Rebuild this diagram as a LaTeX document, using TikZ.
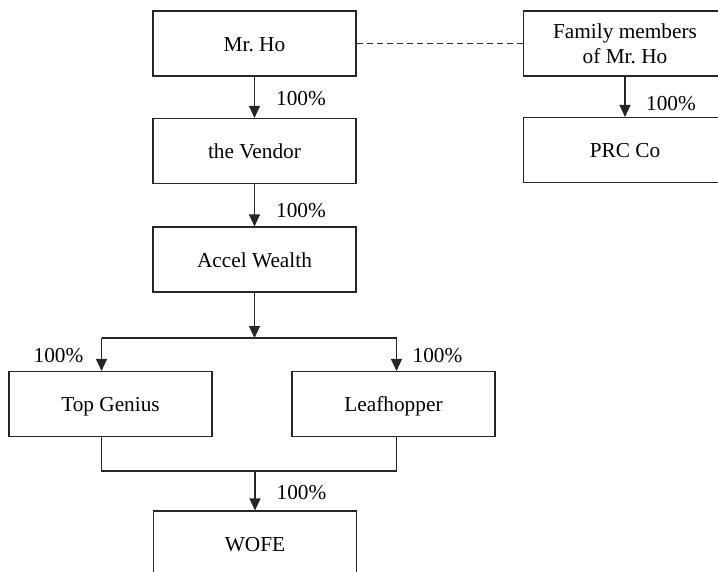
\documentclass[tikz,border=0pt]{standalone}
\usepackage{fontspec}
\setmainfont{Liberation Serif}
\usetikzlibrary{arrows.meta}
\frenchspacing
\begin{document}
\begin{tikzpicture}[x=1pt,y=-1pt,
  box/.style={draw=black!85,line width=1.1pt,minimum width=203pt,minimum height=65pt,inner sep=0pt,align=center,font=\fontsize{21.3}{24}\selectfont\frenchspacing},
  sbox/.style={box,text height=15.5pt,text depth=0pt},
  lab/.style={inner sep=0pt,text height=14.5pt,text depth=0pt,font=\fontsize{21.3}{23}\selectfont},
  conn/.style={line width=1.1pt,draw=black!85},
  arr/.style={conn,-{Triangle[length=12pt,width=11pt]}},
  dashline/.style={line width=0.9pt,draw=black!85,dash pattern=on 6pt off 4pt}]
\useasboundingbox (0,0) rectangle (718,571);
\clip (0,0) rectangle (718,571);
\node[sbox] (mrho) at (254.5,43.5) {Mr. Ho};
\node[box] (family) at (625,43.5) {\raisebox{-2.5pt}{\shortstack{Family members\\[2pt]of Mr. Ho}}};
\node[sbox] (prc) at (625,150) {PRC Co};
\node[sbox] (vendor) at (254.5,151) {the Vendor};
\node[sbox] (accel) at (254.5,259.5) {Accel Wealth};
\node[sbox] (top) at (110.5,404) {Top Genius};
\node[sbox] (leaf) at (393.5,404) {Leafhopper};
\node[sbox] (wofe) at (255,543.5) {WOFE};
\coordinate (bar) at (254.5,338);
\coordinate (barL) at (101.5,338);
\coordinate (barR) at (396.5,338);
\coordinate (botL) at (101.5,471);
\coordinate (botR) at (396.5,471);
\coordinate (botM) at (255,471);
\draw[dashline] (mrho.east) -- (family.west);
\draw[arr] (mrho.south) -- (vendor.north);
\draw[arr] (family.south) -- (prc.north);
\draw[arr] (vendor.south) -- (accel.north);
\draw[arr] (accel.south) -- (bar);
\draw[conn] (barL) -- (barR);
\draw[arr] (barL) -- (barL |- top.north);
\draw[arr] (barR) -- (barR |- leaf.north);
\draw[conn] (botL |- top.south) -- (botL) -- (botR) -- (botR |- leaf.south);
\draw[arr] (botM) -- (wofe.north);
\node[lab] (l1) at (301,98) {100\%};
\node[lab] (l2) at (301,210) {100\%};
\node[lab] (l3) at (671,103) {100\%};
\node[lab] (l4) at (58.5,355) {100\%};
\node[lab] (l5) at (437.5,355) {100\%};
\node[lab] (l6) at (301.5,492) {100\%};
\end{tikzpicture}
\end{document}
